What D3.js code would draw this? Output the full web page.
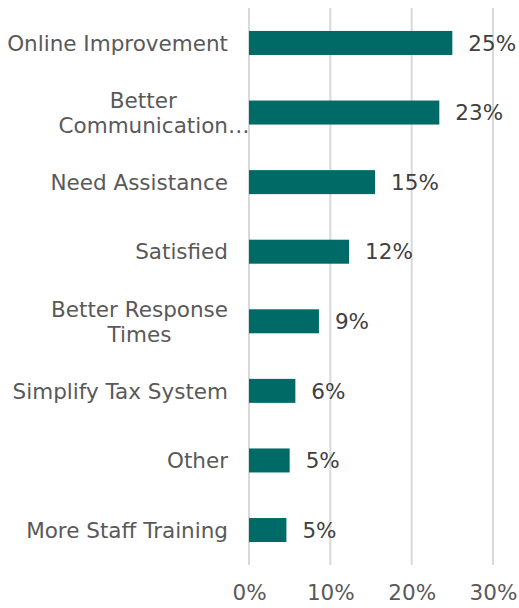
<!DOCTYPE html>
<html>
<head>
<meta charset="utf-8">
<script src="https://cdn.jsdelivr.net/npm/d3@7"></script>
<style>
  body { margin: 0; background: #fff; }
  text { font-family: "DejaVu Sans", Verdana, sans-serif; }
</style>
</head>
<body>
<div id="chart"></div>
<script>
// data
const categories = [
    ["Online Improvement"],
    ["Better", "Communication…"],
    ["Need Assistance"],
    ["Satisfied"],
    ["Better Response", "Times"],
    ["Simplify Tax System"],
    ["Other"],
    ["More Staff Training"]
];
const values = [0.25, 0.234, 0.155, 0.123, 0.086, 0.057, 0.050, 0.046];
const valueLabels = ["25%", "23%", "15%", "12%", "9%", "6%", "5%", "5%"];
const ticks = [0, 0.1, 0.2, 0.3];

const width = 519, height = 608;
const margin = {top: 8, right: 26, bottom: 43, left: 249};
const fontSize = 21.5;

const svg = d3.select("#chart").append("svg")
    .attr("width", width)
    .attr("height", height);

const g = svg.append("g")
    .attr("transform", `translate(${margin.left}, ${margin.top})`);

const innerH = height - margin.top - margin.bottom;

let x = d3.scaleLinear().domain([0, 0.3]).range([0, 244]);
let y = d3.scaleBand()
    .domain(d3.range(categories.length))
    .range([0, innerH])
    .paddingInner(0.655)
    .paddingOuter(0.33);

// gridlines
g.selectAll("line.grid")
    .data(ticks)
    .enter()
    .append("line")
    .attr("class", "grid")
    .attr("x1", d => x(d))
    .attr("x2", d => x(d))
    .attr("y1", 0)
    .attr("y2", innerH)
    .attr("stroke", "#d9d9d9")
    .attr("stroke-width", 2);

// x axis labels
let xAxis = d3.axisBottom(x).tickValues(ticks).tickFormat(d3.format(".0%")).tickSize(0).tickPadding(20);
let ax = g.append("g")
    .attr("transform", `translate(0, ${innerH})`)
    .call(xAxis);
ax.select(".domain").remove();
ax.selectAll("text")
    .attr("font-size", fontSize)
    .attr("fill", "#595959")
    .style("font-family", "DejaVu Sans, Verdana, sans-serif");

// bars
g.selectAll("rect.bar")
    .data(values)
    .enter()
    .append("rect")
    .attr("class", "bar")
    .attr("x", x(0))
    .attr("y", (d, i) => y(i))
    .attr("width", d => x(d) - x(0))
    .attr("height", y.bandwidth())
    .attr("fill", "#006b66");

// value labels
g.selectAll("text.val")
    .data(values)
    .enter()
    .append("text")
    .attr("class", "val")
    .attr("x", d => x(d) + 16)
    .attr("y", (d, i) => y(i) + y.bandwidth() / 2)
    .attr("dy", "0.36em")
    .attr("font-size", fontSize)
    .attr("fill", "#404040")
    .text((d, i) => valueLabels[i]);

// category labels, multi-line ones centred as a block against the axis
const labelRight = -21;
const lineH = 25;
function textWidth(s) {
    let tmp = g.append("text").attr("font-size", fontSize).text(s);
    let w = tmp.node().getComputedTextLength();
    tmp.remove();
    return w;
}
categories.forEach((lines, i) => {
    let cy = y(i) + y.bandwidth() / 2;
    let t = g.append("text")
        .attr("font-size", fontSize)
        .attr("fill", "#595959");
    if (lines.length === 1) {
        t.attr("x", labelRight).attr("y", cy).attr("dy", "0.36em")
            .attr("text-anchor", "end").text(lines[0]);
        return;
    }
    // ellipsis is not counted when centring, it just hangs off the end
    let widths = lines.map(l => textWidth(l.replace("…", "")));
    let cx = labelRight - d3.max(widths) / 2;
    let top = cy - (lines.length - 1) * lineH / 2;
    lines.forEach((l, j) => {
        t.append("tspan")
            .attr("x", cx - widths[j] / 2)
            .attr("y", top + j * lineH)
            .attr("dy", "0.36em")
            .text(l);
    });
});
</script>
</body>
</html>
